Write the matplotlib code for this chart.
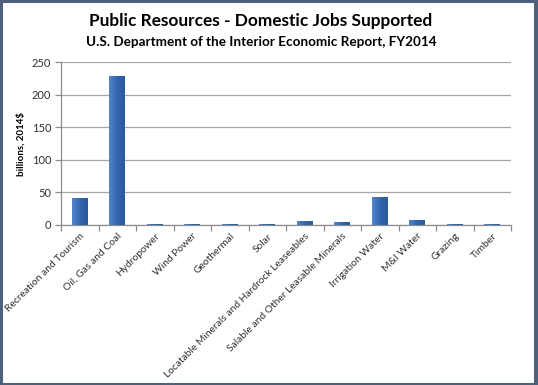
import matplotlib
matplotlib.use("Agg")
import matplotlib.pyplot as plt
import numpy as np
from matplotlib.patches import Rectangle
from matplotlib.colors import LinearSegmentedColormap

categories = ["Recreation and Tourism", "Oil, Gas and Coal", "Hydropower", "Wind Power",
              "Geothermal", "Solar", "Locatable Minerals and Hardrock Leaseables",
              "Salable and Other Leasable Minerals", "Irrigation Water", "M&I Water",
              "Grazing", "Timber"]
values = [41.6, 229, 1, 1, 1, 1, 6.2, 3.7, 42.6, 7.7, 1, 1]
yticks = [0, 50, 100, 150, 200, 250]

title = "Public Resources - Domestic Jobs Supported"
subtitle = "U.S. Department of the Interior Economic Report, FY2014"
ylabel = "billions, 2014$"

plt.rcParams['font.family'] = ['Lato', 'DejaVu Sans']

fig = plt.figure(figsize=(5.38, 3.85), dpi=100)
fig.patch.set_facecolor("white")
ax = fig.add_axes([61/538, 1-224.7/385, 450/538, (224.7-62.3)/385])

x = np.arange(len(categories))
bars = ax.bar(x, values, width=0.42, color="#3a6db5", edgecolor="none", zorder=3)

cmap = LinearSegmentedColormap.from_list("g", ["#4f86cf", "#3466ae", "#2a5a9c"])
grad = np.linspace(0, 1, 64).reshape(1, -1)
for b in bars:
    x0, y0 = b.get_x(), b.get_y()
    w, h = b.get_width(), b.get_height()
    im = ax.imshow(grad, cmap=cmap, extent=[x0, x0 + w, y0, y0 + h],
                   aspect="auto", zorder=4, interpolation="bilinear")
    im.set_clip_path(b)

ax.set_xlim(-0.5, len(categories) - 0.5)
ax.set_ylim(0, 250)
ax.set_yticks(yticks)
ax.set_yticklabels([str(t) for t in yticks], fontsize=8, color="#303030")
ax.yaxis.grid(True, color="#a6a6a6", linewidth=0.9, zorder=0)
ax.set_axisbelow(True)

ax.set_xticks(x)
ax.set_xticklabels(categories, rotation=45, ha="right", rotation_mode="anchor",
                   fontsize=7.4, color="#303030")
ax.tick_params(axis="x", length=0, pad=5)
ax.set_xticks(np.arange(-0.5, len(categories)), minor=True)
ax.tick_params(axis="x", which="minor", length=4, color="#8c8c8c", width=0.9)
ax.tick_params(axis="y", length=4, color="#8c8c8c", width=0.9, pad=3)

for s in ["top", "right"]:
    ax.spines[s].set_visible(False)
for s in ["left", "bottom"]:
    ax.spines[s].set_color("#8c8c8c")
    ax.spines[s].set_linewidth(0.9)

ax.set_ylabel(ylabel, fontsize=7, fontweight="bold", color="black")
ax.yaxis.set_label_coords(-0.078, 0.5)

cx = 261 / 538
fig.text(cx, 1 - 21/385, title, ha="center", va="center", fontsize=12.4,
         fontweight="bold", color="black")
fig.text(cx, 1 - 42/385, subtitle, ha="center", va="center", fontsize=9.7,
         fontweight="bold", color="black")

# outer frame
fig.patches.append(Rectangle((0.002, 0.003), 0.993, 0.994, transform=fig.transFigure,
                             fill=False, edgecolor="#4d6278", linewidth=2.2))
fig.patches.append(Rectangle((0.9955, 0.0), 0.0045, 1.0, transform=fig.transFigure,
                             fill=True, facecolor="#4d6278", edgecolor="none"))

fig.savefig("out.png", dpi=100, facecolor="white")
